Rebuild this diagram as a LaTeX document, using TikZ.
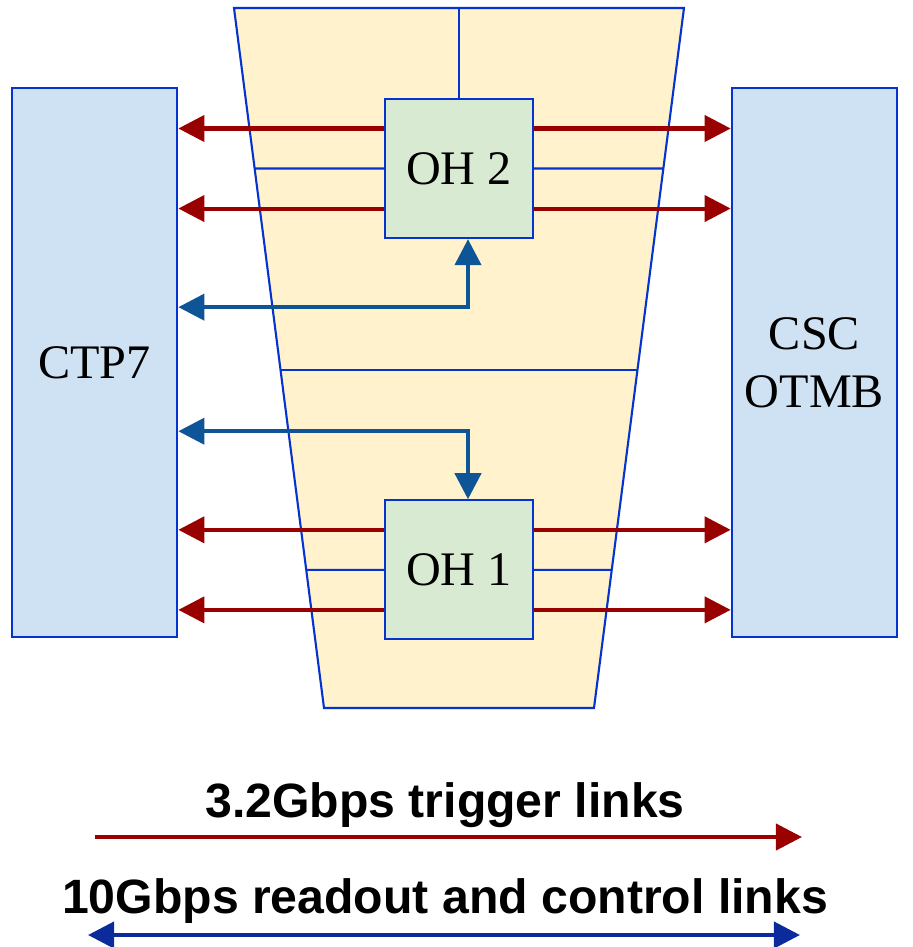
\documentclass[tikz,border=0pt]{standalone}
\usepackage{fontspec}
\setmainfont{Liberation Serif}
\setsansfont{Liberation Sans}
\usepackage{tikz}
\usetikzlibrary{positioning,arrows.meta,calc}

\definecolor{linkred}{HTML}{990000}
\definecolor{linkblue}{HTML}{0E5598}
\definecolor{legblue}{HTML}{0B2B9C}
\definecolor{edgeblue}{HTML}{0433D0}
\definecolor{boardfill}{HTML}{CFE2F3}
\definecolor{ohfill}{HTML}{D9EAD3}
\definecolor{chamberfill}{HTML}{FFF2CC}

\begin{document}
\begin{tikzpicture}[
  x=0.01cm, y=-0.01cm,
  board/.style={draw=edgeblue, line width=0.6pt, fill=boardfill, minimum width=1.655cm, minimum height=5.49cm, align=center, font=\fontsize{13.7}{16.5}\selectfont},
  ohbox/.style={draw=edgeblue, line width=0.6pt, fill=ohfill, minimum width=1.48cm, minimum height=1.39cm, font=\fontsize{13.7}{16.5}\selectfont},
  chamberline/.style={draw=edgeblue, line width=0.6pt},
  trig/.style={draw=linkred, line width=1.15pt, -{Triangle[length=7.4pt,width=7.4pt]}},
  rdo/.style={draw=linkblue, line width=1.15pt, {Triangle[length=7.4pt,width=7.4pt]}-{Triangle[length=7.4pt,width=7.4pt]}},
  legend/.style={font=\sffamily\bfseries\fontsize{13.7}{16}\selectfont, anchor=base}
]
  \useasboundingbox (0,0) rectangle (913,947);

  % chamber outline
  \coordinate (tl) at (234,8);
  \coordinate (tr) at (684,8);
  \coordinate (br) at (594,708);
  \coordinate (bl) at (324,708);
  \draw[chamberline, fill=chamberfill] (tl) -- (tr) -- (br) -- (bl) -- cycle;
  \draw[chamberline] ($(tl)!0.517!(bl)$) -- ($(tr)!0.517!(br)$);

  \node[board] (ctp) at (94.5,362.5) {CTP7};
  \node[board, right=5.52cm of ctp] (otmb) {CSC\\OTMB};
  \node[ohbox] (oh2) at (459,168.5) {OH 2};
  \node[ohbox, below=2.6cm of oh2] (oh1) {OH 1};

  \draw[chamberline] (oh2.north) -- (oh2.north |- tl);
  \foreach \oh in {oh1,oh2} {
    \draw[chamberline] (\oh.west) -- (intersection of tl--bl and \oh.west--\oh.east);
    \draw[chamberline] (\oh.east) -- (intersection of tr--br and \oh.west--\oh.east);
  }

  % trigger links
  \foreach \oh in {oh1,oh2}
    \foreach \dy in {4mm,-4mm} {
      \coordinate (l) at ([yshift=\dy]\oh.west);
      \coordinate (r) at ([yshift=\dy]\oh.east);
      \draw[trig] (l) -- (l -| ctp.east);
      \draw[trig] (r) -- (r -| otmb.west);
    }

  % readout links
  \coordinate (k2) at ([yshift=-6.8mm]oh2.south);
  \coordinate (k1) at ([yshift=6.8mm]oh1.north);
  \draw[rdo] (k2 -| ctp.east) -| ([xshift=0.9mm]oh2.south);
  \draw[rdo] (k1 -| ctp.east) -| ([xshift=0.9mm]oh1.north);

  % legend
  \node[legend] (trigleg) at (445,817) {3.2Gbps trigger links};
  \node[legend] (rdoleg) at (445,913) {10Gbps readout and control links};
  \coordinate (t0) at (95,837);
  \coordinate (t1) at (802,837);
  \draw[trig] (t0) -- (t1);
  \coordinate (r0) at (88,935);
  \coordinate (r1) at (800,935);
  \draw[rdo, draw=legblue] (r0) -- (r1);
\end{tikzpicture}
\end{document}
